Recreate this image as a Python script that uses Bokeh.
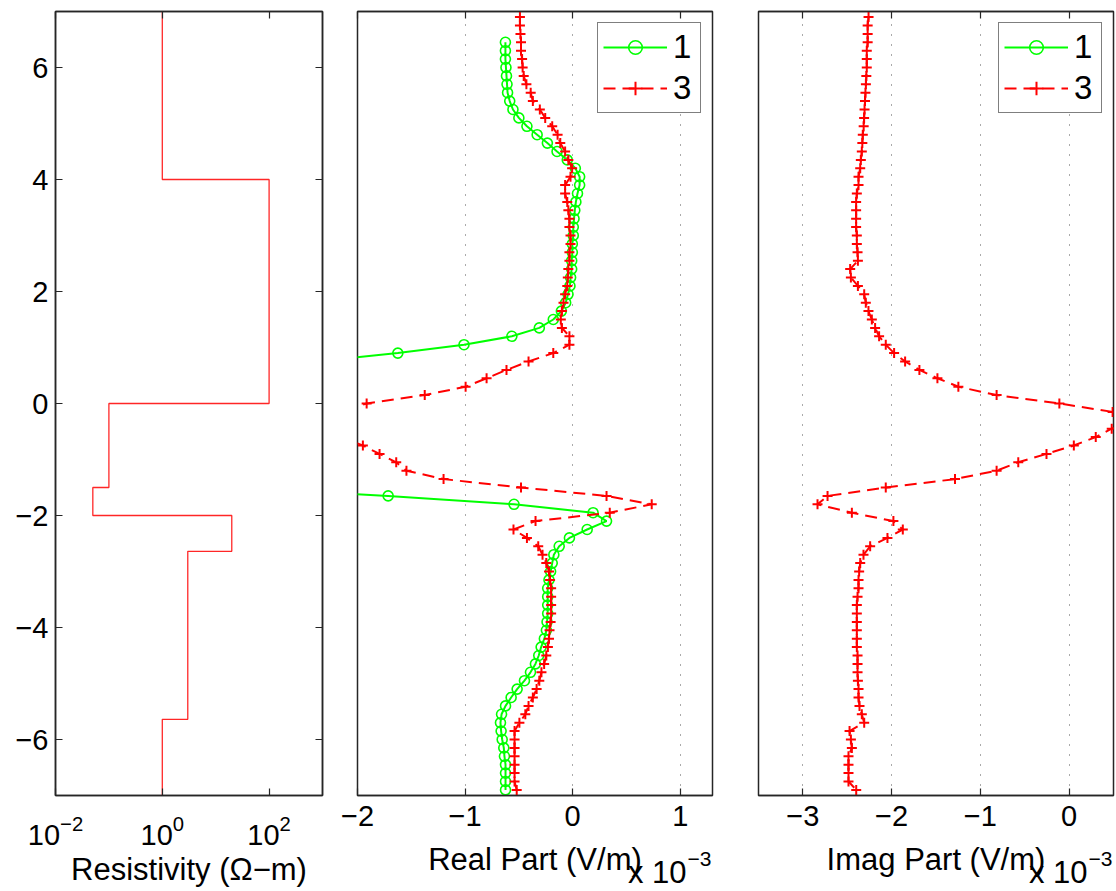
import numpy as np
from bokeh.plotting import figure
from bokeh.layouts import row, column
from bokeh.models import FixedTicker, LinearAxis, LogAxis, Label, Legend, LegendItem, Range1d
from bokeh.embed import file_html
from bokeh.resources import INLINE

# ---------------- data ----------------
depth = [6.9, 6.75, 6.6, 6.45, 6.3, 6.15, 6.0, 5.85, 5.7, 5.55,
         5.4, 5.25, 5.1, 4.95, 4.8, 4.65, 4.5, 4.35, 4.2, 4.05,
         3.9, 3.75, 3.6, 3.45, 3.3, 3.15, 3.0, 2.85, 2.7, 2.55,
         2.4, 2.25, 2.1, 1.95, 1.8, 1.65, 1.5, 1.35, 1.2, 1.05,
         0.9, 0.75, 0.6, 0.45, 0.3, 0.15, 0.0, -0.15, -0.3, -0.45,
         -0.6, -0.75, -0.9, -1.05, -1.2, -1.35, -1.5, -1.65, -1.8, -1.95,
         -2.1, -2.25, -2.4, -2.55, -2.7, -2.85, -3.0, -3.15, -3.3, -3.45,
         -3.6, -3.75, -3.9, -4.05, -4.2, -4.35, -4.5, -4.65, -4.8, -4.95,
         -5.1, -5.25, -5.4, -5.55, -5.7, -5.85, -6.0, -6.15, -6.3, -6.45,
         -6.6, -6.75, -6.9]
depth_1 = depth[3:]

# Real part (x 1e-3 V/m), series "1"
real_1 = [-0.625, -0.625, -0.625, -0.62, -0.615, -0.61, -0.605,
          -0.585, -0.555, -0.5, -0.425, -0.33, -0.235, -0.145, -0.05, 0.025, 0.065,
          0.065, 0.045, 0.03, 0.02, 0.013, 0.006, 0.006, -0.003, -0.003, -0.009,
          -0.009, -0.019, -0.025, -0.043, -0.065, -0.105, -0.18, -0.31, -0.565, -1.01,
          -1.625, -2.4, -3.0, -3.4, -3.6, -3.75, -3.85, -3.9, -3.9, -3.85,
          -3.75, -3.65, -3.5, -3.4, -3.3, -3.2, -3.15, -1.715, -0.545, 0.19,
          0.315, 0.135, -0.03, -0.125, -0.175, -0.19, -0.205, -0.22, -0.232, -0.232,
          -0.232, -0.232, -0.238, -0.244, -0.263, -0.293, -0.315, -0.346, -0.392, -0.448,
          -0.516, -0.572, -0.624, -0.661, -0.671, -0.665, -0.655, -0.64, -0.634, -0.624,
          -0.624, -0.624, -0.624]

# Real part (x 1e-3 V/m), series "3"
real_3 = [-0.49, -0.49, -0.485, -0.48, -0.48, -0.47, -0.465, -0.455, -0.43, -0.39,
          -0.37, -0.305, -0.255, -0.19, -0.14, -0.115, -0.07, -0.04, -0.005, -0.02,
          -0.07, -0.07, -0.05, -0.04, -0.03, -0.03, -0.02, -0.02, -0.03, -0.03,
          -0.04, -0.045, -0.05, -0.07, -0.085, -0.1, -0.11, -0.1, -0.03, -0.03,
          -0.18, -0.41, -0.615, -0.8, -0.995, -1.375, -1.915, -2.2, -2.4, -2.4,
          -2.15, -1.95, -1.795, -1.64, -1.545, -1.2, -0.48, 0.315, 0.735, 0.345,
          -0.345, -0.55, -0.425, -0.32, -0.28, -0.245, -0.22, -0.21, -0.2, -0.2,
          -0.2, -0.2, -0.205, -0.215, -0.22, -0.23, -0.245, -0.265, -0.29, -0.31,
          -0.335, -0.37, -0.41, -0.44, -0.495, -0.54, -0.54, -0.54, -0.54, -0.54,
          -0.54, -0.54, -0.52]

# Imag part (x 1e-3 V/m), series "3"
imag_3 = [-2.26, -2.27, -2.27, -2.27, -2.28, -2.28, -2.28, -2.285, -2.29, -2.295,
          -2.3, -2.305, -2.31, -2.315, -2.325, -2.33, -2.336, -2.347, -2.354, -2.373,
          -2.373, -2.392, -2.4, -2.4, -2.4, -2.4, -2.392, -2.392, -2.384, -2.38,
          -2.467, -2.459, -2.38, -2.309, -2.291, -2.261, -2.223, -2.186, -2.141, -2.066,
          -1.972, -1.848, -1.687, -1.484, -1.248, -0.817, -0.11, 0.49, 0.75, 0.48,
          0.3, 0.053, -0.255, -0.573, -0.817, -1.286, -2.066, -2.722, -2.835, -2.448,
          -1.98, -1.874, -2.047, -2.242, -2.317, -2.354, -2.366, -2.373, -2.373, -2.384,
          -2.392, -2.392, -2.392, -2.392, -2.392, -2.392, -2.384, -2.384, -2.384, -2.38,
          -2.373, -2.373, -2.362, -2.336, -2.309, -2.474, -2.459, -2.448, -2.486, -2.486,
          -2.486, -2.486, -2.399]
# Imag part of series "1": not visible on this scale (legend entry only)
imag_1 = [float("nan")]
depth_imag_1 = [float("nan")]

# Resistivity model
layer_bounds = [7, 4, 0, -1.5, -2, -2.64, -5.64, -7]
layer_rho = [1, 100, 0.1, 0.05, 20, 3, 1]

y_ticks = [-6, -4, -2, 0, 2, 4, 6]
y_tick_labels = ["\u22126", "\u22124", "\u22122", "0", "2", "4", "6"]
rho_ticks = [0.01, 1, 100]
real_ticks = [-2, -1, 0, 1]
real_tick_labels = ["\u22122", "\u22121", "0", "1"]
imag_ticks = [-3, -2, -1, 0]
imag_tick_labels = ["\u22123", "\u22122", "\u22121", "0"]

# ---------------- style ----------------
FONT = "Liberation Sans"
AX = "#262626"
TOP = 11
FRAME_H = 784
TOTAL_H = 891
TICK_FS = "29px"
TITLE_FS = "31px"
EXP_FS = "21px"
GREEN = "#00ff00"
RED = "#ff0000"


def base_fig(width, left, right, bottom, **kw):
    p = figure(width=width, height=TOP + FRAME_H + bottom, y_range=Range1d(-7, 7),
               output_backend="svg", toolbar_location=None,
               min_border_left=left, min_border_right=right,
               min_border_top=TOP, min_border_bottom=bottom, **kw)
    p.outline_line_color = AX
    p.outline_line_width = 1.5
    p.background_fill_color = "white"
    p.border_fill_color = "white"
    return p


def text_strip(p, left, right, bottom, **kw):
    """Strip under a panel that holds its axis title (frame spans the strip)."""
    h = TOTAL_H - (TOP + FRAME_H + bottom)
    q = figure(width=p.width, height=h, x_range=p.x_range, y_range=Range1d(0, h),
               output_backend="svg", toolbar_location=None,
               x_axis_location=None, y_axis_location=None,
               min_border_left=left, min_border_right=right,
               min_border_top=0, min_border_bottom=0, **kw)
    q.grid.visible = False
    q.outline_line_color = None
    q.background_fill_color = "white"
    q.border_fill_color = "white"
    return q, h


def style_axis(ax, ticks, labels=None, standoff=8, font_size=TICK_FS):
    ax.ticker = FixedTicker(ticks=ticks)
    if labels is not None:
        ax.major_label_overrides = {t: l for t, l in zip(ticks, labels)}
    ax.major_tick_in = 7
    ax.major_tick_out = 0
    ax.minor_tick_in = 0
    ax.minor_tick_out = 0
    ax.axis_line_color = AX
    ax.axis_line_width = 1.5
    ax.major_tick_line_color = AX
    ax.major_tick_line_width = 1.2
    ax.major_label_text_font = FONT
    ax.major_label_text_font_size = font_size
    ax.major_label_text_color = "black"
    ax.major_label_standoff = standoff


def tick_only_axis(cls, ticks):
    ax = cls()
    style_axis(ax, ticks, [""] * len(ticks), standoff=0, font_size="1px")
    return ax


def label(q, x, y, text, size, align="center", x_off=0):
    q.add_layout(Label(x=x, y=y, text=text, x_offset=x_off,
                       text_align=align, text_baseline="alphabetic",
                       text_font=FONT, text_font_size=size, text_color="black"))


def add_legend(p, r1, r3):
    leg = Legend(items=[LegendItem(label="1", renderers=r1),
                        LegendItem(label="3", renderers=r3)],
                 location="top_right")
    leg.border_line_color = "black"
    leg.border_line_width = 1.3
    leg.background_fill_color = "white"
    leg.background_fill_alpha = 1
    leg.label_text_font = FONT
    leg.label_text_font_size = "33px"
    leg.label_text_line_height = 1.0
    leg.label_text_color = "black"
    leg.glyph_width = 64
    leg.glyph_height = 34
    leg.label_height = 34
    leg.label_width = 22
    leg.spacing = 3
    leg.padding = 5
    leg.margin = 11
    leg.label_standoff = 6
    p.add_layout(leg)


# ---------------- panel 1: resistivity ----------------
B1 = 57
p1 = base_fig(328, 55, 6, B1, x_axis_type="log", x_range=Range1d(1e-2, 1e3))
xs, ys = [], []
for i, r in enumerate(layer_rho):
    xs += [r, r]
    ys += [layer_bounds[i], layer_bounds[i + 1]]
p1.line(xs, ys, line_color=RED, line_width=1.3, line_alpha=0.85)
p1.grid.visible = False
style_axis(p1.yaxis[0], y_ticks, y_tick_labels, standoff=7)
style_axis(p1.xaxis[0], rho_ticks, None, standoff=19)
p1.add_layout(tick_only_axis(LogAxis, rho_ticks), "above")
p1.add_layout(tick_only_axis(LinearAxis, y_ticks), "right")

q1, h1 = text_strip(p1, 55, 6, B1, x_axis_type="log")
label(q1, 10 ** 0.5, 22, "Resistivity (\u03a9\u2212m)", TITLE_FS)

# ---------------- panel 2: real part ----------------
B2 = 46
p2 = base_fig(415, 29, 31, B2, x_range=Range1d(-2, 1.3))
p2.yaxis.visible = False
style_axis(p2.xaxis[0], real_ticks, real_tick_labels, standoff=10)
p2.add_layout(tick_only_axis(LinearAxis, real_ticks), "above")
p2.ygrid.visible = False
p2.xgrid.grid_line_color = "#555555"
p2.xgrid.grid_line_dash = "1 9"
p2.xgrid.grid_line_width = 1

g_line = p2.line(real_1, depth_1, line_color=GREEN, line_width=2)
g_mark = p2.scatter(real_1, depth_1, marker="circle", size=10, fill_color=None,
                    line_color=GREEN, line_width=1.6)
r_line = p2.line(real_3, depth, line_color=RED, line_width=2, line_dash="12 7")
r_mark = p2.scatter(real_3, depth, marker="cross", size=10, line_color=RED, line_width=2)
add_legend(p2, [g_line, g_mark], [r_line, r_mark])

q2, h2 = text_strip(p2, 29, 31, B2)
label(q2, -0.35, 32, "Real Part (V/m)", TITLE_FS)
label(q2, 1.3, 33, "\u22123", EXP_FS, align="right", x_off=-1)
label(q2, 1.3, 19, "x 10", TITLE_FS, align="right", x_off=-26)

# ---------------- panel 3: imaginary part ----------------
p3 = base_fig(373, 15, 3, B2, x_range=Range1d(-3.5, 0.5))
p3.yaxis.visible = False
style_axis(p3.xaxis[0], imag_ticks, imag_tick_labels, standoff=10)
p3.add_layout(tick_only_axis(LinearAxis, imag_ticks), "above")
p3.ygrid.visible = False
p3.xgrid.grid_line_color = "#555555"
p3.xgrid.grid_line_dash = "1 9"
p3.xgrid.grid_line_width = 1

g3_line = p3.line(imag_1, depth_imag_1, line_color=GREEN, line_width=2)
g3_mark = p3.scatter(imag_1, depth_imag_1, marker="circle", size=10, fill_color=None,
                     line_color=GREEN, line_width=1.6)
r3_line = p3.line(imag_3, depth, line_color=RED, line_width=2, line_dash="12 7")
r3_mark = p3.scatter(imag_3, depth, marker="cross", size=10, line_color=RED, line_width=2)
add_legend(p3, [g3_line, g3_mark], [r3_line, r3_mark])

q3, h3 = text_strip(p3, 15, 3, B2)
label(q3, -1.5, 32, "Imag Part (V/m)", TITLE_FS)
label(q3, 0.5, 33, "\u22123", EXP_FS, align="right", x_off=-1)
label(q3, 0.5, 19, "x 10", TITLE_FS, align="right", x_off=-26)

layout = row(column(p1, q1), column(p2, q2), column(p3, q3))
open("out.html", "w").write(file_html(layout, INLINE))
